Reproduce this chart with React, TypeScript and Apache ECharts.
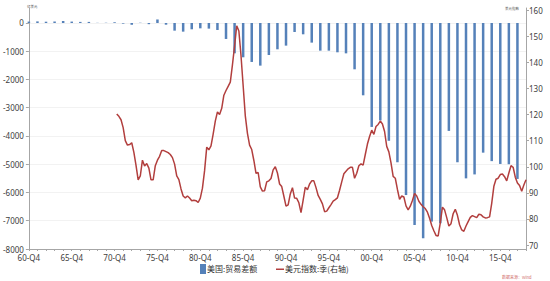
import { useEffect, useRef } from "react";
import * as echarts from "echarts";

// first category is 1960-Q4, last is 2018-Q4 (quarterly axis)
const FIRST_YEAR = 1960;
const CATEGORY_COUNT = 233;

// 美国:贸易差额 (亿美元), one bar per year, placed at that year's Q4
const tradeYears = [
  1960, 1961, 1962, 1963, 1964, 1965, 1966, 1967, 1968, 1969,
  1970, 1971, 1972, 1973, 1974, 1975, 1976, 1977, 1978, 1979,
  1980, 1981, 1982, 1983, 1984, 1985, 1986, 1987, 1988, 1989,
  1990, 1991, 1992, 1993, 1994, 1995, 1996, 1997, 1998, 1999,
  2000, 2001, 2002, 2003, 2004, 2005, 2006, 2007, 2008, 2009,
  2010, 2011, 2012, 2013, 2014, 2015, 2016, 2017,
];
const tradeBalance = [
  49, 56, 45, 52, 68, 49, 38, 38, 6, 9,
  26, -23, -64, 9, -43, 124, -61, -272, -307, -224,
  -190, -200, -248, -566, -1073, -1215, -1380, -1510, -1133, -932,
  -802, -319, -401, -696, -980, -980, -1038, -1075, -1640, -2560,
  -3680, -3450, -4170, -4930, -6090, -7150, -7620, -7030, -7090, -3820,
  -4930, -5500, -5360, -4590, -4890, -4990, -5000, -5520,
];

// 美元指数:季, quarterly from 1971-Q1
const dollarStartQuarter = 41; // index of 1971-Q1 on the axis
const dollarIndex = [
  120.2, 119.3, 118, 115, // 1971
  110, 108.3, 108.5, 109.2,
  105.5, 100.5, 95, 96.5,
  102.5, 100.3, 101.2, 99.5,
  95, 95, 100.4, 102.5, // 1975
  104, 106.2, 106.2, 105.8,
  105.4, 104.7, 103.5, 101,
  96.5, 95.1, 91.5, 88.8,
  88.1, 88.8, 88, 87,
  87.2, 87, 86.3, 88, // 1980
  91.8, 98.5, 107.5, 106.5,
  108, 112.5, 117.5, 121,
  120, 122.4, 127.4, 129.2,
  130.8, 132.4, 139, 146.3,
  154, 152, 142.5, 131, // 1985
  119.5, 112.8, 108.3, 106.6,
  102.4, 97.5, 97.8, 92.3,
  90.7, 90.8, 94.2, 94.6,
  95.5, 98.8, 100, 97.6,
  93.4, 92.4, 88.7, 84.9, // 1990
  85.4, 89.6, 92, 88,
  87.9, 86.2, 82.4, 87.2,
  92.2, 91.2, 93.4, 94.6,
  94.6, 92, 89, 87.5,
  85.8, 82.8, 83, 84.3, // 1995
  85.5, 86.8, 87.4, 88.1,
  91, 94.2, 97.3, 98.3,
  99.2, 99.8, 99.8, 95.6,
  97.5, 100.4, 101.1, 100.6,
  104.7, 108.7, 111.6, 114, // 2000
  112.4, 115.4, 116.2, 117.5,
  116.4, 113.5, 107.8, 105.7,
  101.5, 96.3, 95.6, 91.3,
  87.5, 88.8, 88.4, 85,
  83.5, 84.9, 87.1, 89.8, // 2005
  88.8, 86.8, 85.6, 84.7,
  84, 82.6, 80.3, 77.5,
  75.5, 73.7, 73.5, 78.5,
  84.5, 83.5, 80.5, 77.3,
  78.2, 82, 83.7, 81.4, // 2010
  77.8, 75.8, 75.3, 77.3,
  79, 80.6, 81.3, 80.9,
  80.5, 81.8, 81.6, 80.8,
  80.4, 80.5, 80.8, 86,
  92.5, 95.2, 95.6, 97, // 2015
  97.2, 96.2, 94.6, 97.6,
  100.4, 99.8, 96, 93.8,
  92.8, 90.6, 93, 95,
];

const leftTicks = [-8000, -7000, -6000, -5000, -4000, -3000, -2000, -1000, 0];
const rightTicks = [70, 80, 90, 100, 110, 120, 130, 140, 150, 160];

const barName = "美国:贸易差额";
const lineName = "美元指数:季(右轴)";

const BAR_COLOR = "#5581b9";
const LINE_COLOR = "#b23f3e";
const FONT = "'Noto Sans', 'Noto Sans CJK SC', sans-serif";

function buildCategories(): string[] {
  const out: string[] = [];
  for (let q = 0; q < CATEGORY_COUNT; q++) {
    const t = FIRST_YEAR * 4 + 3 + q;
    const year = Math.floor(t / 4);
    const quarter = (t % 4) + 1;
    out.push(String(year % 100).padStart(2, "0") + "-Q" + quarter);
  }
  return out;
}

export default function App() {
  const ref = useRef<HTMLDivElement>(null);

  useEffect(() => {
    document.body.style.margin = "0";
    if (!ref.current) return;
    const chart = echarts.init(ref.current, undefined, { renderer: "svg" });

    const categories = buildCategories();
    const barData: (number | null)[] = new Array(CATEGORY_COUNT).fill(null);
    tradeYears.forEach((y, i) => {
      const idx = (y - FIRST_YEAR) * 4;
      if (idx >= 0 && idx < CATEGORY_COUNT) barData[idx] = tradeBalance[i];
    });
    const lineData: (number | null)[] = new Array(CATEGORY_COUNT).fill(null);
    dollarIndex.forEach((v, i) => {
      const idx = dollarStartQuarter + i;
      if (idx < CATEGORY_COUNT) lineData[idx] = v;
    });

    const axisColor = "#a6a6a6";
    const labelColor = "#404040";

    chart.setOption({
      animation: false,
      grid: { left: 26, right: 24, top: 8, bottom: 32, containLabel: false },
      xAxis: {
        type: "category",
        data: categories,
        boundaryGap: false,
        axisLine: { onZero: false, lineStyle: { color: axisColor, width: 1 } },
        axisTick: { show: true, interval: 3, length: 2, lineStyle: { color: axisColor } },
        axisLabel: {
          interval: 19,
          fontSize: 8,
          color: labelColor,
          margin: 4,
          fontFamily: FONT,
        },
        splitLine: { show: false },
      },
      yAxis: [
        {
          type: "value",
          position: "left",
          min: -8000,
          max: 530,
          axisLine: { show: true, lineStyle: { color: axisColor } },
          axisTick: { show: true, length: 3, customValues: leftTicks, lineStyle: { color: axisColor } },
          axisLabel: {
            customValues: leftTicks,
            formatter: (v: number) => String(v),
            fontSize: 8,
            color: labelColor,
            margin: 5,
            fontFamily: FONT,
          },
          splitLine: { show: true, lineStyle: { color: "#f2f2f2" } },
        },
        {
          type: "value",
          position: "right",
          min: 68.5,
          max: 160.8,
          axisLine: { show: true, lineStyle: { color: axisColor } },
          axisTick: { show: true, length: 3, customValues: rightTicks, lineStyle: { color: axisColor } },
          axisLabel: {
            customValues: rightTicks,
            formatter: (v: number) => String(v),
            fontSize: 8,
            color: labelColor,
            margin: 3,
            fontFamily: FONT,
          },
          splitLine: { show: false },
        },
      ],
      series: [
        {
          name: barName,
          type: "bar",
          yAxisIndex: 0,
          data: barData,
          barWidth: 2.5,
          itemStyle: { color: BAR_COLOR },
        },
        {
          name: lineName,
          type: "line",
          yAxisIndex: 1,
          data: lineData,
          showSymbol: false,
          symbol: "none",
          lineStyle: { color: LINE_COLOR, width: 1.5 },
          itemStyle: { color: LINE_COLOR },
        },
      ],
      graphic: [
        {
          type: "rect",
          left: 200,
          top: 264,
          shape: { width: 6, height: 10 },
          style: { fill: BAR_COLOR },
        },
        {
          type: "text",
          left: 207,
          top: 264,
          style: { text: barName, fontSize: 8, fill: "#333", fontFamily: "'Noto Sans CJK SC', sans-serif" },
        },
        {
          type: "rect",
          left: 276,
          top: 268.5,
          shape: { width: 8, height: 1.5 },
          style: { fill: LINE_COLOR },
        },
        {
          type: "text",
          left: 285,
          top: 264,
          style: { text: lineName, fontSize: 8, fill: "#333", fontFamily: "'Noto Sans CJK SC', sans-serif" },
        },
        {
          type: "text",
          left: 27,
          top: 5,
          style: { text: "亿美元", fontSize: 3.5, fill: "#555", fontFamily: "'Noto Sans CJK SC', sans-serif" },
        },
        {
          type: "text",
          left: 505,
          top: 7,
          style: { text: "美元指数", fontSize: 3.5, fill: "#555", fontFamily: "'Noto Sans CJK SC', sans-serif" },
        },
        {
          type: "text",
          left: 502,
          top: 275,
          style: { text: "数据来源：Wind", fontSize: 4, fill: "#d06a6a", fontFamily: "'Noto Sans CJK SC', sans-serif" },
        },
      ],
    });

    return () => {
      chart.dispose();
    };
  }, []);

  return <div ref={ref} style={{ width: 550, height: 281 }} />;
}
